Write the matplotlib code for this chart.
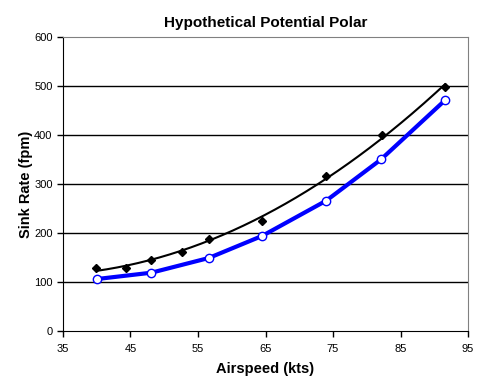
import numpy as np
import matplotlib
matplotlib.use('Agg')
import matplotlib.pyplot as plt

plt.rcParams['font.family'] = ['Liberation Sans', 'DejaVu Sans']

# Data
black_speed = [39.9, 44.3, 48.1, 52.6, 56.6, 64.5, 74.0, 82.2, 91.6]
black_sink = [128, 129, 145, 162, 187, 225, 317, 400, 498]

blue_speed = [40.0, 48.1, 56.6, 64.5, 74.0, 82.1, 91.6]
blue_sink = [106, 119, 149, 194, 266, 350, 471]

xticks = [35, 45, 55, 65, 75, 85, 95]
yticks = [0, 100, 200, 300, 400, 500, 600]

fig = plt.figure(figsize=(4.99, 3.87), dpi=100)
ax = fig.add_axes([63 / 499, 56 / 387, 405 / 499, 294 / 387])

# quadratic trendline through the black points
coef = np.polyfit(black_speed, black_sink, 2)
xs = np.linspace(min(black_speed), max(black_speed), 200)
ax.plot(xs, np.polyval(coef, xs), color='black', lw=1.5, zorder=3)
ax.plot(black_speed, black_sink, linestyle='none', marker='D', ms=4.5,
        color='black', zorder=4)

ax.plot(blue_speed, blue_sink, color='#0000ff', lw=3, marker='o', ms=6,
        mfc='white', mec='#0000ff', mew=1, zorder=5)

ax.set_xlim(35, 95)
ax.set_ylim(0, 600)
ax.set_xticks(xticks)
ax.set_yticks(yticks)
ax.tick_params(direction='out', length=4, width=1, labelsize=8, colors='black')
ax.tick_params(axis='x', pad=5)

for y in yticks[1:-1]:
    ax.axhline(y, color='black', lw=1, zorder=1)

ax.spines['left'].set_color('black')
ax.spines['bottom'].set_color('black')
ax.spines['top'].set_color('#808080')
ax.spines['right'].set_color('#808080')

ax.set_title('Hypothetical Potential Polar', fontsize=11, fontweight='bold', pad=7)
ax.set_xlabel('Airspeed (kts)', fontsize=10.5, fontweight='bold', labelpad=6)
ax.set_ylabel('Sink Rate (fpm)', fontsize=10.5, fontweight='bold', labelpad=1)

fig.savefig('out.png', dpi=100)
